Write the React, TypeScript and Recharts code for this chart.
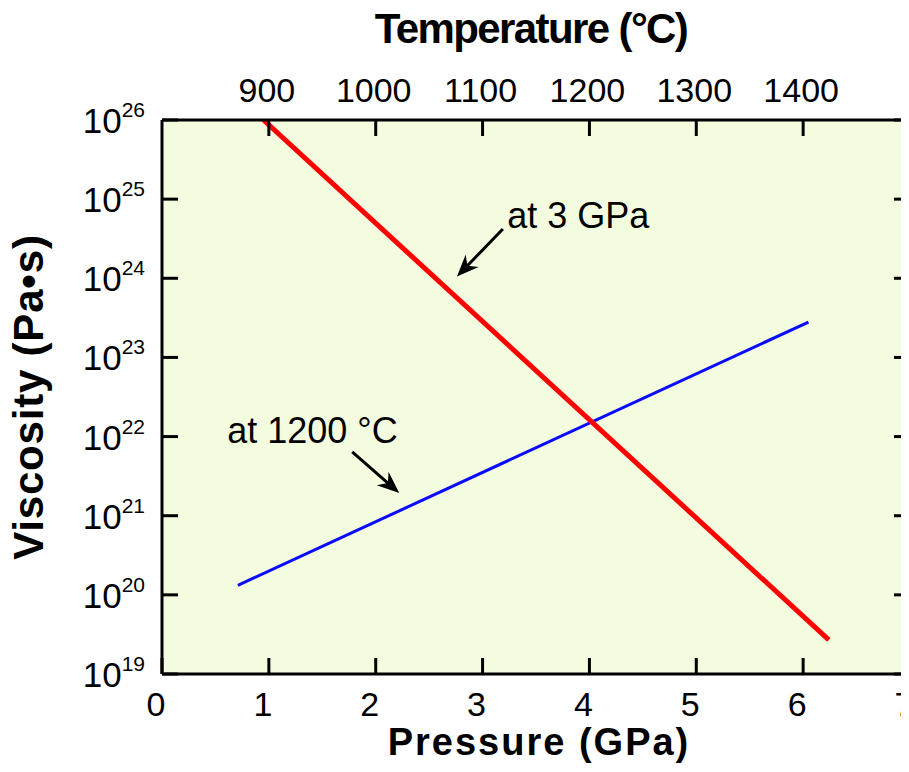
import {
  Line,
  LineChart,
  ReferenceArea,
  ReferenceDot,
  ReferenceLine,
  XAxis,
  YAxis,
} from "recharts";

// axes
const PRESSURE_TICKS = [0, 1, 2, 3, 4, 5, 6, 7];
const TEMP_TICKS = [900, 1000, 1100, 1200, 1300, 1400];
const VISC_TICKS = [1e19, 1e20, 1e21, 1e22, 1e23, 1e24, 1e25, 1e26];

// red: viscosity vs temperature at 3 GPa
const RED_TEMPS = [895, 1424];
const RED_VISC = [1e26, 2.7e19];

// blue: viscosity vs pressure at 1200 °C
const BLUE_PRESSURES = [0.71, 6.05];
const BLUE_VISC = [1.32e20, 2.8e23];

const redData = RED_TEMPS.map((t, i) => ({ temp: t, viscosity: RED_VISC[i] }));
const blueData = BLUE_PRESSURES.map((p, i) => ({ pressure: p, viscosity: BLUE_VISC[i] }));

const FONT = "'Liberation Sans', Arial, Helvetica, sans-serif";
const PLOT_BG = "#f4fce0";
const TICK_LEN = 16;

function LeftTick({ x, y, payload }: any) {
  const exp = Math.round(Math.log10(payload.value));
  return (
    <g>
      <line x1={x} x2={x + TICK_LEN} y1={y} y2={y} stroke="#000" strokeWidth={3} />
      <text x={x - 17} y={y + 13} textAnchor="end" fontSize={35} fill="#000" fontFamily={FONT}>
        <tspan>10</tspan>
        <tspan dy={-16} fontSize={21}>
          {exp}
        </tspan>
      </text>
    </g>
  );
}

function RightTick({ x, y }: any) {
  return <line x1={x - TICK_LEN} x2={x} y1={y} y2={y} stroke="#000" strokeWidth={3} />;
}

function BottomTick({ x, y, payload }: any) {
  return (
    <g>
      <line x1={x} x2={x} y1={y} y2={y - TICK_LEN} stroke="#000" strokeWidth={3} />
      <text x={x - 6} y={y + 42} textAnchor="middle" fontSize={34} fill="#000" fontFamily={FONT}>
        {payload.value}
      </text>
    </g>
  );
}

function TopTick({ x, y, payload }: any) {
  return (
    <g>
      <line x1={x} x2={x} y1={y} y2={y + TICK_LEN} stroke="#000" strokeWidth={3} />
      <text x={x - 2} y={y - 18} textAnchor="middle" fontSize={34} fill="#000" fontFamily={FONT}>
        {payload.value}
      </text>
    </g>
  );
}

// line with a barbed arrowhead at (x2, y2)
function Arrow({ x1, y1, x2, y2 }: any) {
  const dx = x2 - x1;
  const dy = y2 - y1;
  const len = Math.hypot(dx, dy) || 1;
  const ux = dx / len;
  const uy = dy / len;
  const headLen = 22;
  const headW = 9;
  const notch = 7;
  const bx = x2 - ux * headLen;
  const by = y2 - uy * headLen;
  const nx = x2 - ux * (headLen - notch);
  const ny = y2 - uy * (headLen - notch);
  const pts = [
    [x2, y2],
    [bx - uy * headW, by + ux * headW],
    [nx, ny],
    [bx + uy * headW, by - ux * headW],
  ]
    .map((p) => p.join(","))
    .join(" ");
  return (
    <g>
      <line x1={x1} y1={y1} x2={nx} y2={ny} stroke="#000" strokeWidth={3} />
      <polygon points={pts} fill="#000" />
    </g>
  );
}

const noteText = (text: string) => (props: any) => (
  <text x={props.cx} y={props.cy} fontSize={36} fill="#000" fontFamily={FONT}>
    {text}
  </text>
);

export default function App() {
  return (
    <div style={{ width: 901, height: 756, overflow: "hidden", fontFamily: FONT }}>
      <LineChart width={930} height={756} margin={{ top: 0, right: 0, bottom: 0, left: 0 }}>
        <ReferenceArea
          xAxisId="p"
          yAxisId="left"
          x1={0}
          x2={7}
          y1={1e19}
          y2={1e26}
          fill={PLOT_BG}
          fillOpacity={1}
          stroke="none"
        />
        <XAxis
          xAxisId="p"
          dataKey="pressure"
          type="number"
          orientation="bottom"
          domain={[0, 7]}
          ticks={PRESSURE_TICKS}
          interval={0}
          allowDataOverflow
          height={90}
          tickSize={0}
          tickMargin={0}
          tickLine={false}
          tick={<BottomTick />}
          axisLine={{ stroke: "#000", strokeWidth: 3 }}
          label={{
            content: (props: any) => {
              const vb = props.viewBox;
              return (
                <text
                  x={vb.x + vb.width / 2 + 3}
                  y={vb.y + 81}
                  textAnchor="middle"
                  fontSize={38}
                  fontWeight="bold"
                  letterSpacing={2}
                  fill="#000"
                  fontFamily={FONT}
                >
                  Pressure (GPa)
                </text>
              );
            },
          }}
        />
        <XAxis
          xAxisId="t"
          dataKey="temp"
          type="number"
          orientation="top"
          domain={[800, 1500]}
          ticks={TEMP_TICKS}
          interval={0}
          allowDataOverflow
          height={112}
          tickSize={0}
          tickMargin={0}
          tickLine={false}
          tick={<TopTick />}
          axisLine={{ stroke: "#000", strokeWidth: 3 }}
          label={{
            content: (props: any) => {
              const vb = props.viewBox;
              return (
                <text
                  x={vb.x + vb.width / 2 - 5}
                  y={vb.y + 35}
                  textAnchor="middle"
                  fontSize={42}
                  fontWeight="bold"
                  letterSpacing={-1.6}
                  fill="#000"
                  fontFamily={FONT}
                >
                  Temperature (°C)
                </text>
              );
            },
          }}
        />
        <YAxis
          yAxisId="left"
          dataKey="viscosity"
          orientation="left"
          scale="log"
          type="number"
          domain={[1e19, 1e26]}
          ticks={VISC_TICKS}
          interval={0}
          allowDataOverflow
          width={154}
          tickSize={0}
          tickMargin={0}
          tickLine={false}
          tick={<LeftTick />}
          axisLine={{ stroke: "#000", strokeWidth: 3 }}
          label={{
            content: (props: any) => {
              const vb = props.viewBox;
              const cy = vb.y + vb.height / 2;
              return (
                <text
                  x={35}
                  y={cy}
                  transform={`rotate(-90, 35, ${cy})`}
                  textAnchor="middle"
                  fontSize={42}
                  fontWeight="bold"
                  letterSpacing={0.8}
                  fill="#000"
                  fontFamily={FONT}
                >
                  Viscosity (Pa•s)
                </text>
              );
            },
          }}
        />
        <YAxis
          yAxisId="right"
          orientation="right"
          scale="log"
          type="number"
          domain={[1e19, 1e26]}
          ticks={VISC_TICKS}
          interval={0}
          allowDataOverflow
          width={28}
          tickSize={0}
          tickMargin={0}
          tickLine={false}
          tick={<RightTick />}
          axisLine={{ stroke: "#000", strokeWidth: 3 }}
        />
        <Line
          xAxisId="p"
          yAxisId="left"
          data={blueData}
          dataKey="viscosity"
          stroke="#0a0aff"
          strokeWidth={3}
          dot={false}
          isAnimationActive={false}
        />
        <Line
          xAxisId="t"
          yAxisId="left"
          data={redData}
          dataKey="viscosity"
          stroke="#ff0000"
          strokeWidth={5}
          dot={false}
          isAnimationActive={false}
        />
        <ReferenceLine
          xAxisId="p"
          yAxisId="left"
          segment={[
            { x: 3.19, y: 4.2e24 },
            { x: 2.76, y: 1.05e24 },
          ]}
          shape={<Arrow />}
        />
        <ReferenceLine
          xAxisId="p"
          yAxisId="left"
          segment={[
            { x: 1.78, y: 6.4e21 },
            { x: 2.22, y: 1.94e21 },
          ]}
          shape={<Arrow />}
        />
        <ReferenceDot xAxisId="p" yAxisId="left" x={3.23} y={4.3e24} r={0} shape={noteText("at 3 GPa")} />
        <ReferenceDot xAxisId="p" yAxisId="left" x={0.61} y={8.3e21} r={0} shape={noteText("at 1200 °C")} />
      </LineChart>
    </div>
  );
}
